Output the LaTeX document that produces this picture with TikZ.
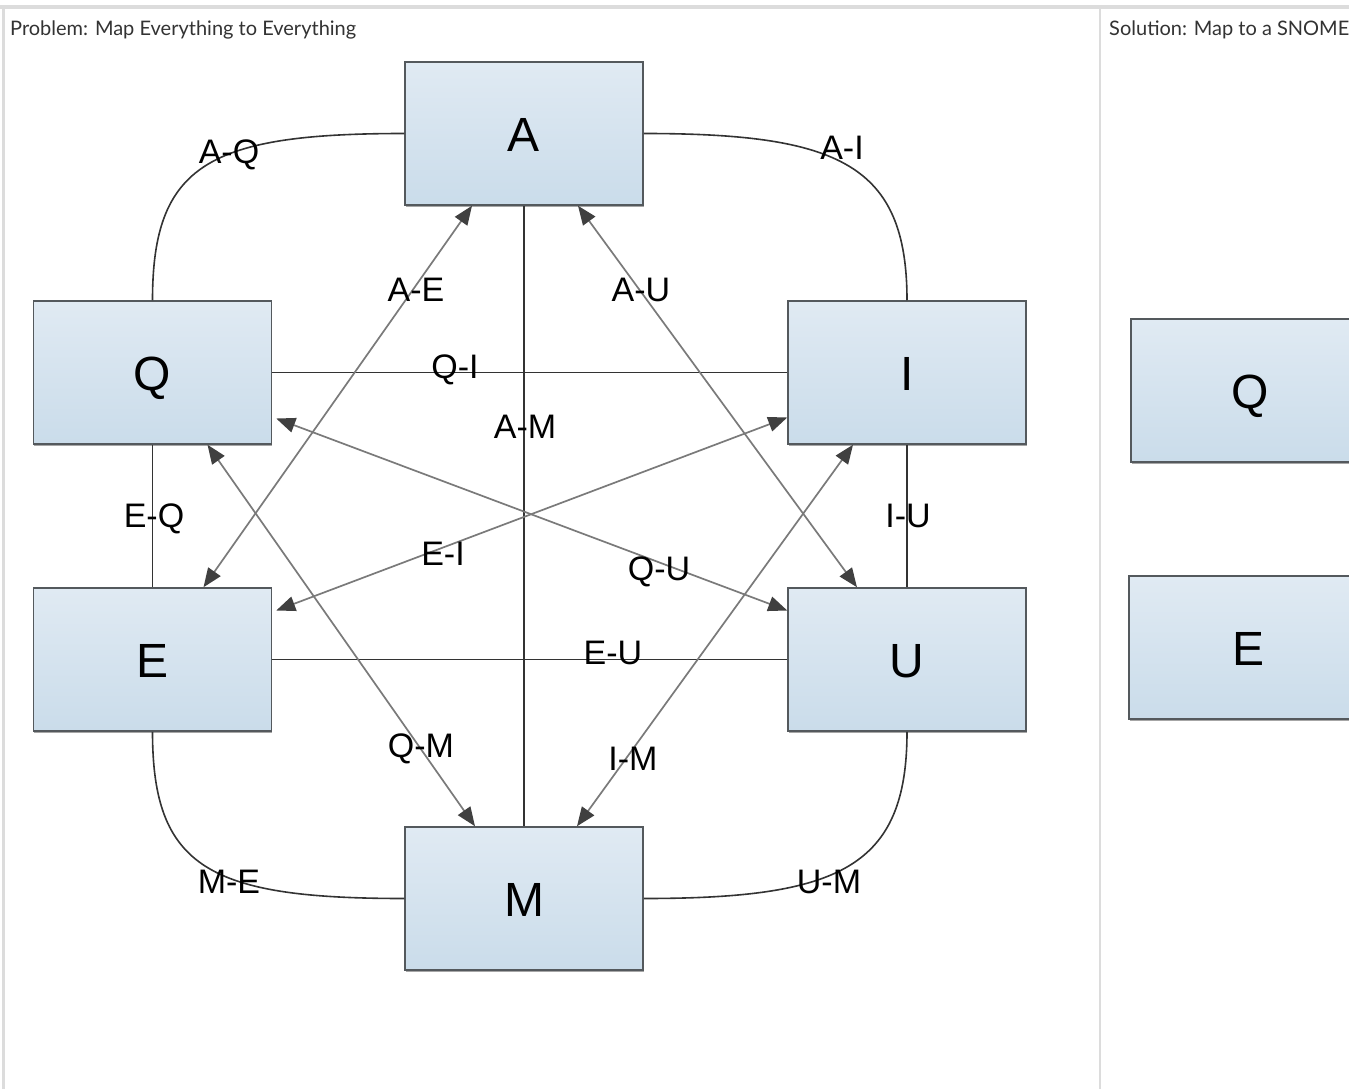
\documentclass[tikz,border=0pt]{standalone}
\usepackage{fontspec}
\setmainfont{Liberation Sans}
\newfontfamily\hdrfont{Lato}
\usetikzlibrary{arrows.meta,shadows}
\definecolor{boxtop}{HTML}{E0EAF3}
\definecolor{boxbot}{HTML}{CADCEA}
\definecolor{boxline}{HTML}{54595D}
\definecolor{plainline}{HTML}{333333}
\definecolor{arrline}{HTML}{7A7A7A}
\definecolor{headcol}{HTML}{404040}
\definecolor{framegray}{HTML}{DCDCDC}
\definecolor{hdrtext}{HTML}{333333}
\tikzset{
  box/.style={draw=boxline, line width=1.5pt, minimum width=238pt, minimum height=143pt,
    top color=boxtop, bottom color=boxbot, inner sep=0pt,
    font=\fontsize{48}{48}\selectfont, text height=35pt, text depth=0pt,
    drop shadow={shadow xshift=0.8pt, shadow yshift=-2.2pt, fill=black, opacity=0.35}},
  lbl/.style={font=\fontsize{34}{34}\selectfont, inner sep=0pt, text height=24pt, text depth=0pt},
  plain/.style={draw=plainline, line width=1.6pt},
  arr/.style={draw=arrline, line width=1.7pt,
    arrows={Triangle[length=19pt,width=15pt,color=headcol]-Triangle[length=19pt,width=15pt,color=headcol]}},
  hdr/.style={font=\hdrfont\fontsize{20}{20}\selectfont, text=hdrtext, inner sep=0pt, anchor=base west}
}
\begin{document}
\begin{tikzpicture}[x=1pt,y=-1pt]
\useasboundingbox (0,0) rectangle (1349,1089);
\fill[white] (0,0) rectangle (1349,1089);
% frame
\fill[framegray] (0,5) rectangle (1349,9);
\fill[framegray] (2,9) rectangle (4.5,1089);
\fill[framegray] (1098.5,9) rectangle (1101,1089);
% headers
\node[hdr] (h1) at (10,36) {Problem: Map Everything to Everything};
\begin{scope}
\clip (1101,9) rectangle (1349,1089);
\node[hdr] (h2) at (1109,36) {Solution: Map to a SNOMED};
\node[box] (Q2) at (1250,390.5) {Q};
\node[box] (E2) at (1248,647.5) {E};
\end{scope}
% boxes
\node[box] (A) at (524,133.5) {A};
\node[box] (Q) at (152.5,372.5) {Q};
\node[box] (I) at (907,372.5) {I};
\node[box] (E) at (152.5,659.5) {E};
\node[box] (U) at (907,659.5) {U};
\node[box] (M) at (524,898.5) {M};
% curved connectors
\draw[plain] (A.west) .. controls +(-195,0) and +(0,-136) .. (Q.north);
\draw[plain] (A.east) .. controls +(195,0) and +(0,-136) .. (I.north);
\draw[plain] (M.west) .. controls +(-195,0) and +(0,136) .. (E.south);
\draw[plain] (M.east) .. controls +(195,0) and +(0,136) .. (U.south);
% straight connectors
\draw[plain] (Q.east) -- (I.west);
\draw[plain] (E.east) -- (U.west);
\draw[plain] (Q.south) -- (E.north);
\draw[plain] (I.south) -- (U.north);
\draw[plain] (A.south) -- (M.north);
% double arrows
\draw[arr] ([xshift=-52pt]A.south) -- ([xshift=51pt]E.north);
\draw[arr] ([xshift=54pt]A.south) -- ([xshift=-50pt]U.north);
\draw[arr] ([xshift=55pt]Q.south) -- ([xshift=-49pt]M.north);
\draw[arr] ([xshift=-54pt]I.south) -- ([xshift=53pt]M.north);
\draw[arr] ([xshift=4pt,yshift=-46pt]Q.east) -- ([yshift=49pt]U.west);
\draw[arr] ([xshift=4pt,yshift=49pt]E.east) -- ([yshift=-45pt]I.west);
% labels
\node[lbl] (lAQ) at (229,152) {A-Q};
\node[lbl] (lAI) at (842,148) {A-I};
\node[lbl] (lAE) at (416,289) {A-E};
\node[lbl] (lAU) at (641,289) {A-U};
\node[lbl] (lQI) at (455,366) {Q-I};
\node[lbl] (lAM) at (525,426) {A-M};
\node[lbl] (lEQ) at (154,515) {E-Q};
\node[lbl] (lIU) at (908,515) {I-U};
\node[lbl] (lEI) at (443,553) {E-I};
\node[lbl] (lQU) at (659,568) {Q-U};
\node[lbl] (lEU) at (613,652) {E-U};
\node[lbl] (lQM) at (421,745) {Q-M};
\node[lbl] (lIM) at (633,758) {I-M};
\node[lbl] (lME) at (229,881) {M-E};
\node[lbl] (lUM) at (829,881) {U-M};
\end{tikzpicture}
\end{document}
